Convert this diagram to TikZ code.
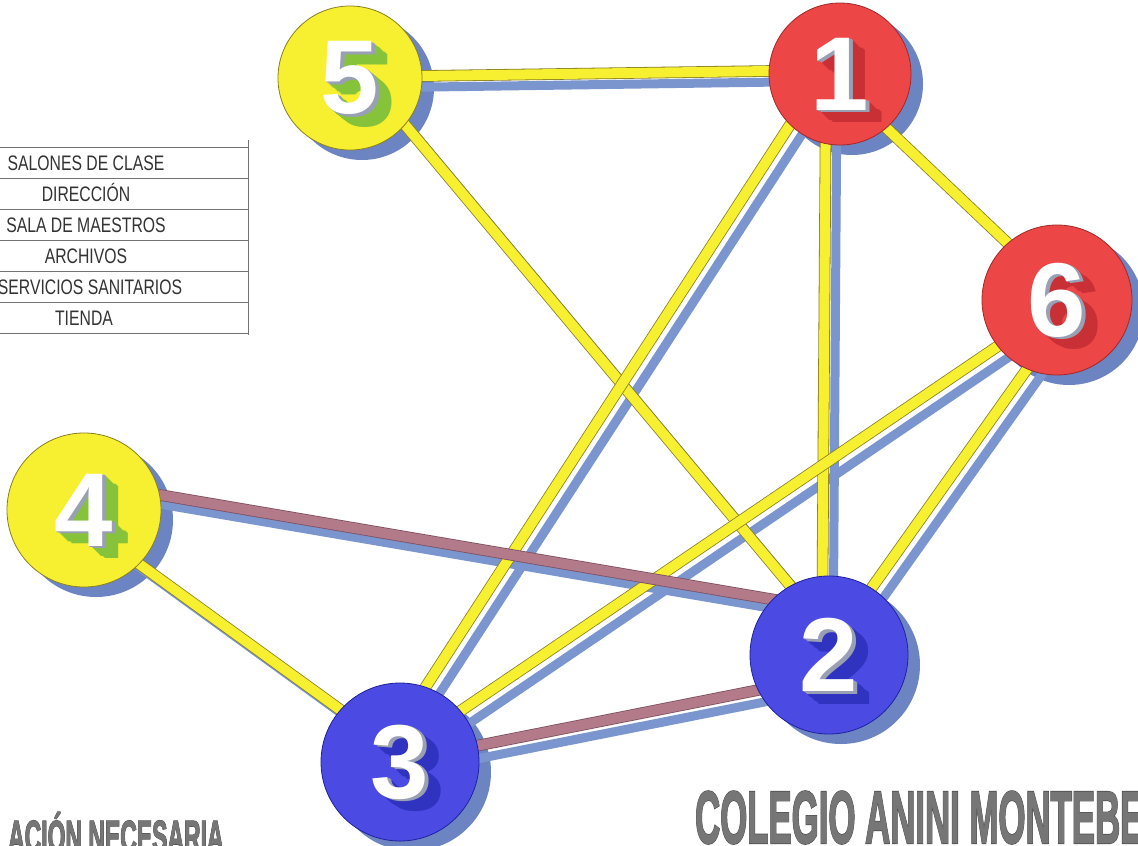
\documentclass[tikz,border=0pt]{standalone}
\usepackage{fontspec}
\setmainfont{Liberation Sans}
\newfontfamily\digfam{Liberation Sans}
\newfontfamily\heavyfam{Liberation Sans}[FakeBold=3]
\newfontfamily\heavyfamb{Liberation Sans}[FakeBold=1.2]
\usetikzlibrary{calc}
\definecolor{ylw}{HTML}{F7F030}
\definecolor{ylwline}{HTML}{8A7F20}
\definecolor{rd}{HTML}{EC4646}
\definecolor{rdline}{HTML}{A02828}
\definecolor{bl}{HTML}{4B4BE3}
\definecolor{blline}{HTML}{2020A0}
\definecolor{cshadowcol}{HTML}{6C85C2}
\definecolor{eshadowcol}{HTML}{7B95CF}
\definecolor{mv}{HTML}{B37A8A}
\definecolor{mvline}{HTML}{7E5060}
\definecolor{grn}{HTML}{86C23A}
\definecolor{dkred}{HTML}{C83036}
\definecolor{dkblue}{HTML}{3032C0}
\definecolor{digside}{HTML}{9AA0B4}
\definecolor{titlegray}{HTML}{767676}
\definecolor{titledark}{HTML}{4A4A4A}
\pgfdeclarelayer{bgwhite}
\pgfdeclarelayer{cshadow}
\pgfdeclarelayer{eshadow}
\pgfdeclarelayer{edges}
\pgfsetlayers{bgwhite,cshadow,eshadow,edges,main}
\newcommand\digfont{\digfam\bfseries\fontsize{105}{105}\selectfont}
\newcommand\tblfont{\fontsize{21}{21}\selectfont}
\newcommand\vtx[7]{%
  \node[#5, minimum size=2*#4pt] (#1) at (#2,#3) {};
  \begin{pgfonlayer}{cshadow}\fill[cshadowcol] ($(#1)+(12,10)$) circle (#4);\end{pgfonlayer}
  \foreach \k in {4,...,14} {\node[dig,text=#7] (#1s\k) at ($(#1)+(1.1*\k,0.9*\k)$) {#6};}
  \foreach \k in {1,2,3} {\node[dig,text=digside] (#1g\k) at ($(#1)+(1.1*\k,0.9*\k)$) {#6};}
  \node[dig,text=white] (#1d) at (#1) {#6};
}
\newcommand\myedge[5]{%
  \begin{pgfonlayer}{eshadow}\draw[eshad] ($(#1)+(#2)+(11,11)$) -- ($(#3)+(#4)+(11,11)$);\end{pgfonlayer}
  \begin{pgfonlayer}{edges}\draw[#5] ($(#1)+(#2)$) -- ($(#3)+(#4)$);\end{pgfonlayer}
}
\begin{document}
\begin{tikzpicture}[x=1pt,y=-1pt,
  circ/.style={circle,inner sep=0pt,line width=0.8pt},
  ycirc/.style={circ,fill=ylw,draw=ylwline},
  rcirc/.style={circ,fill=rd,draw=rdline},
  bcirc/.style={circ,fill=bl,draw=blline},
  yedge/.style={draw=ylwline,line width=0.8pt,double=ylw,double distance=10pt},
  medge/.style={draw=mvline,line width=0.8pt,double=mv,double distance=10pt},
  eshad/.style={draw=eshadowcol,line width=9pt},
  dig/.style={font=\digfont,inner sep=0pt},
  tbl/.style={draw=black!55,line width=0.8pt},
  tbltxt/.style={font=\tblfont,text=black!80,xscale=0.75,anchor=base,inner sep=0pt},
]
\useasboundingbox (0,0) rectangle (1138,846);
\begin{pgfonlayer}{bgwhite}\fill[white] (0,0) rectangle (1138,846);\end{pgfonlayer}
\clip (0,0) rectangle (1138,846);

% table
\foreach \yy in {147,178,209,240,271,302,333} \draw[tbl] (0,\yy) -- (248,\yy);
\draw[tbl] (248,140) -- (248,335);
\node[tbltxt] (t1) at (86,170) {SALONES DE CLASE};
\node[tbltxt] (t2) at (86,201) {DIRECCIÓN};
\node[tbltxt] (t3) at (86,232) {SALA DE MAESTROS};
\node[tbltxt] (t4) at (86,263) {ARCHIVOS};
\node[tbltxt] (t5) at (90,294) {SERVICIOS SANITARIOS};
\node[tbltxt] (t6) at (84,325) {TIENDA};

% vertices
\vtx{n5}{350}{78}{72}{ycirc}{5}{grn}
\vtx{n1}{840}{74}{71}{rcirc}{1}{dkred}
\vtx{n6}{1057}{300}{75}{rcirc}{6}{dkred}
\vtx{n4}{84}{510}{77}{ycirc}{4}{grn}
\vtx{n2}{829}{655}{79}{bcirc}{2}{dkblue}
\vtx{n3}{400}{762}{79}{bcirc}{3}{dkblue}

% edges
\myedge{n5}{0,-1}{n1}{0,-4}{yedge}
\myedge{n5}{0,-19}{n2}{0,-23}{yedge}
\myedge{n1}{-17,0}{n3}{-23,0}{yedge}
\myedge{n1}{-14,0}{n2}{-7,0}{yedge}
\myedge{n1}{0,10}{n6}{0,-10}{yedge}
\myedge{n6}{0,6}{n3}{0,-10}{yedge}
\myedge{n6}{19,0}{n2}{-5,0}{yedge}
\myedge{n4}{0,14}{n3}{0,-9}{yedge}
\myedge{n4}{0,-28}{n2}{0,-46}{medge}
\myedge{n3}{0,-1}{n2}{0,21}{medge}

% titles
\node[font=\heavyfam\bfseries\fontsize{74}{74}\selectfont,text=titledark,xscale=0.47,anchor=base west,inner sep=0pt] (ttl1) at (695,843) {COLEGIO ANINI MONTEBE};
\node[font=\heavyfamb\bfseries\fontsize{74}{74}\selectfont,text=titlegray,xscale=0.47,anchor=base west,inner sep=0pt] (ttl1b) at (695,843) {COLEGIO ANINI MONTEBE};
\node[font=\heavyfam\bfseries\fontsize{45}{45}\selectfont,text=titledark,xscale=0.51,anchor=base west,inner sep=0pt] (ttl2) at (8,852) {ACIÓN NECESARIA};
\node[font=\heavyfamb\bfseries\fontsize{45}{45}\selectfont,text=titlegray,xscale=0.51,anchor=base west,inner sep=0pt] (ttl2b) at (8,852) {ACIÓN NECESARIA};
\end{tikzpicture}
\end{document}
